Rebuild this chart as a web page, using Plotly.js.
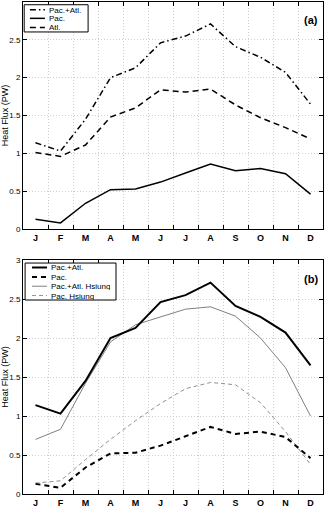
<!DOCTYPE html>
<html><head><meta charset="utf-8">
<script src="https://cdn.plot.ly/plotly-3.0.1.min.js"></script>
<style>html,body{margin:0;padding:0;background:#fff}#c{width:324px;height:507px}</style>
</head><body><div id="c"></div>
<script>
const months = [1,2,3,4,5,6,7,8,9,10,11,12];
const monthLabels = ['J','F','M','A','M','J','J','A','S','O','N','D'];
const pacAtl = [1.14,1.03,1.45,2.00,2.13,2.46,2.55,2.71,2.41,2.27,2.07,1.65];
const pac = [0.13,0.08,0.34,0.52,0.53,0.62,0.74,0.86,0.77,0.80,0.73,0.46];
const atl = [1.01,0.96,1.11,1.48,1.60,1.84,1.81,1.85,1.64,1.47,1.34,1.19];
const pacAtlHsiung = [0.70,0.83,1.42,1.95,2.17,2.27,2.37,2.40,2.28,2.00,1.62,1.00];
const pacHsiung = [0.14,0.17,0.44,0.70,0.94,1.16,1.35,1.43,1.40,1.17,0.80,0.38];
const gridVals = [0.5,1.5,2.5,3.5,4.5,5.5,6.5,7.5,8.5,9.5,10.5,11.5,12.5];
const yTicks = [0,0.5,1,1.5,2,2.5,3];
const yTickText = ['0','0.5','1','1.5','2','2.5','3'];
const legendA = ['Pac.+Atl.','Pac.','Atl.'];
const legendB = ['Pac.+Atl.','Pac.','Pac.+Atl. Hsiung','Pac. Hsiung'];

const F = 'Liberation Sans, Arial, sans-serif';
const sA = [
  {color:'#000',width:1.5,dash:'6px,3px,1.5px,3px'},
  {color:'#000',width:1.5},
  {color:'#000',width:1.5,dash:'6px,4px'}
];
const sB = [
  {color:'#000',width:2},
  {color:'#000',width:2,dash:'5px,4px'},
  {color:'#808080',width:1},
  {color:'#909090',width:1,dash:'4px,3px'}
];
const traces = [
  {x:months,y:pacAtl,name:legendA[0],mode:'lines',line:sA[0],xaxis:'x',yaxis:'y'},
  {x:months,y:pac,name:legendA[1],mode:'lines',line:sA[1],xaxis:'x',yaxis:'y'},
  {x:months,y:atl,name:legendA[2],mode:'lines',line:sA[2],xaxis:'x',yaxis:'y'},
  {x:months,y:pacAtlHsiung,name:legendB[2],mode:'lines',line:sB[2],xaxis:'x2',yaxis:'y2'},
  {x:months,y:pacHsiung,name:legendB[3],mode:'lines',line:sB[3],xaxis:'x2',yaxis:'y2'},
  {x:months,y:pacAtl,name:legendB[0],mode:'lines',line:sB[0],xaxis:'x2',yaxis:'y2'},
  {x:months,y:pac,name:legendB[1],mode:'lines',line:sB[1],xaxis:'x2',yaxis:'y2'},
  {x:[1],y:[0],mode:'markers',marker:{opacity:0},hoverinfo:'skip',xaxis:'x3',yaxis:'y'},
  {x:[1],y:[0],mode:'markers',marker:{opacity:0},hoverinfo:'skip',xaxis:'x4',yaxis:'y2'}
];
const xBase = {range:[0.5,12.5],tickmode:'array',tickvals:months,ticktext:monthLabels,showgrid:false,zeroline:false,
  ticks:'',showline:true,linecolor:'#000',linewidth:1,mirror:true,tickfont:{family:F,size:9,color:'#000',weight:'bold'}};
const xGrid = {range:[0.5,12.5],tickmode:'array',tickvals:gridVals,showticklabels:false,showgrid:true,gridcolor:'#cfcfcf',griddash:'1px,2px',gridwidth:1,
  ticks:'inside',ticklen:4,tickcolor:'#000',mirror:'ticks',zeroline:false,showline:false};
const yBase = {range:[0,3],tickmode:'array',tickvals:yTicks,ticktext:yTickText,showgrid:true,gridcolor:'#cfcfcf',griddash:'1px,2px',
  zeroline:false,ticks:'inside',ticklen:4,tickcolor:'#000',showline:true,linecolor:'#000',mirror:'ticks',
  tickfont:{family:F,size:8,color:'#000'},title:{text:'Heat Flux (PW)',font:{family:F,size:9,color:'#000'},standoff:4}};

const shapes = [], annotations = [];
function legend(xr, yr, box, rows, names, styles, lx0, lx1, tx){
  shapes.push({type:'rect',xref:xr,yref:yr,x0:box[0],x1:box[1],y0:box[2],y1:box[3],line:{color:'#000',width:1},fillcolor:'#fff',layer:'above'});
  names.forEach((n,i)=>{
    shapes.push({type:'line',xref:xr,yref:yr,x0:lx0,x1:lx1,y0:rows[i],y1:rows[i],line:styles[i],layer:'above'});
    annotations.push({text:n,xref:xr,yref:yr,x:tx,y:rows[i],xanchor:'left',yanchor:'middle',showarrow:false,
      borderpad:0,height:8,font:{family:F,size:8,color:'#000'}});
  });
}
legend('x domain','y domain',[0.004,0.217,0.868,0.988],[0.966,0.928,0.888],legendA,sA,0.023,0.073,0.082);
legend('x2 domain','y2 domain',[0.007,0.31,0.829,0.987],[0.968,0.927,0.888,0.848],legendB,sB,0.03,0.08,0.09);
annotations.push({text:'<b>(a)</b>',xref:'x domain',yref:'y domain',x:0.99,y:0.92,xanchor:'right',yanchor:'middle',showarrow:false,font:{family:F,size:11,color:'#000'}});
annotations.push({text:'<b>(b)</b>',xref:'x2 domain',yref:'y2 domain',x:0.99,y:0.92,xanchor:'right',yanchor:'middle',showarrow:false,font:{family:F,size:11,color:'#000'}});

const layout = {
  width:324,height:507,margin:{l:23,r:1,t:2,b:13},paper_bgcolor:'#fff',plot_bgcolor:'#fff',showlegend:false,
  xaxis:Object.assign({},xBase,{domain:[0,1],anchor:'y'}),
  yaxis:Object.assign({},yBase,{domain:[0.5386,1],anchor:'x'}),
  xaxis2:Object.assign({},xBase,{domain:[0,1],anchor:'y2'}),
  yaxis2:Object.assign({},yBase,{domain:[0,0.4756],anchor:'x2'}),
  xaxis3:Object.assign({},xGrid,{overlaying:'x',anchor:'y'}),
  xaxis4:Object.assign({},xGrid,{overlaying:'x2',anchor:'y2'}),
  shapes:shapes, annotations:annotations
};
Plotly.newPlot('c',traces,layout,{displayModeBar:false,staticPlot:true});
</script></body></html>
